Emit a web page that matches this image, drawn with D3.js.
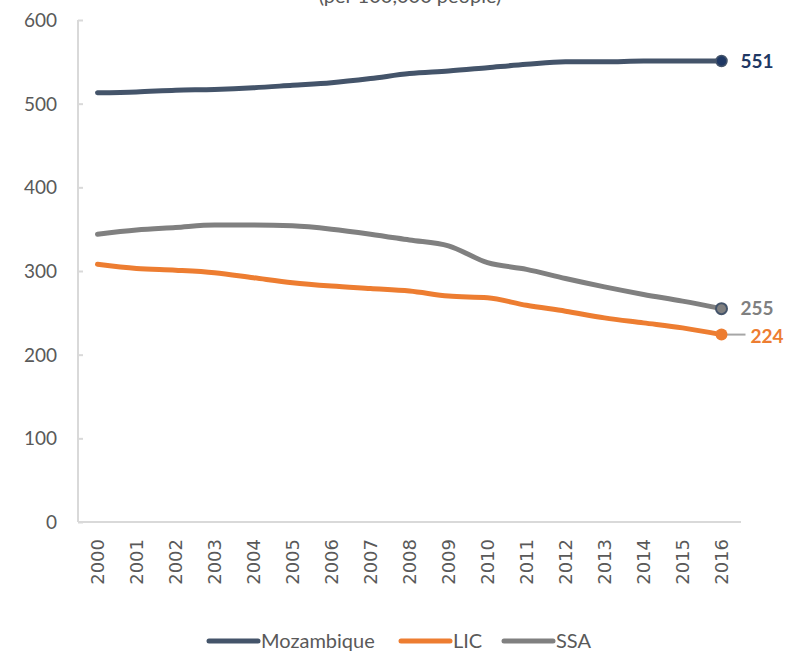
<!DOCTYPE html>
<html><head><meta charset="utf-8">
<script src="https://cdn.jsdelivr.net/npm/d3@7"></script>
<style>body{margin:0;background:#fff}svg{display:block}</style>
</head><body>
<svg id="c" width="796" height="654"></svg>
<script>
const years = ["2000","2001","2002","2003","2004","2005","2006","2007","2008","2009","2010","2011","2012","2013","2014","2015","2016"];
const mozambique = [513,514,516,517,519,522,525,530,536,539,543,547,550,550,551,551,551];
const lic = [308,303,301,298,292,286,282,279,276,270,268,259,252,244,238,232,224];
const ssa = [344,349,352,355,355,354,350,344,337,330,310,302,291,281,272,264,255];
const yTicks = [0,100,200,300,400,500,600];
const seriesNames = ["Mozambique","LIC","SSA"];
const colors = ["#44546A","#ED7D31","#808080"];
const title = "(per 100,000 people)";

const svg = d3.select("#c");
const L = 78, R = 741, T = 20, B = 522;
const x = d3.scalePoint().domain(years).range([L, R]).padding(0.5);
const y = d3.scaleLinear().domain([0,600]).range([B, T]);
const font = "Lato, 'Open Sans', sans-serif";

svg.append("text").attr("x", 410).attr("y", 3).attr("text-anchor","middle")
  .attr("font-family", font).attr("font-size", 20).attr("fill","#595959").text(title);

// axes
const ya = svg.append("g").attr("transform",`translate(${L},0)`)
  .call(d3.axisLeft(y).tickValues(yTicks).tickSize(-5).tickPadding(21));
ya.select(".domain").attr("stroke","#D9D9D9").attr("stroke-width",2).attr("d",`M0,${T}V${B}`);
ya.selectAll(".tick line").attr("stroke","#D9D9D9").attr("stroke-width",2);
ya.selectAll(".tick text").attr("font-family",font).attr("font-size",19).attr("fill","#595959").attr("dy","0.35em");

const xa = svg.append("g").attr("transform",`translate(0,${B})`)
  .call(d3.axisBottom(x).tickSize(0).tickPadding(0));
xa.select(".domain").attr("stroke","#D9D9D9").attr("stroke-width",2).attr("d",`M${L},0H${R}`);
xa.selectAll(".tick text").attr("font-family","'DejaVu Sans', sans-serif").attr("font-size",18).attr("fill","#595959")
  .attr("transform","rotate(-90)").attr("text-anchor","end").attr("x",-17).attr("y",0).attr("dy","0.35em");

const data = [mozambique, lic, ssa];
const line = d3.line().x((d,i)=>x(years[i])).y(d=>y(d)).curve(d3.curveMonotoneX);
data.forEach((s,k)=>{
  svg.append("path").attr("d", line(s)).attr("fill","none").attr("stroke",colors[k])
    .attr("stroke-width",5).attr("stroke-linecap","round").attr("stroke-linejoin","round");
});

const last = years[years.length-1];
// leader line for LIC
svg.append("line").attr("x1", x(last)).attr("x2", x(last)+24).attr("y1", y(lic[16])).attr("y2", y(lic[16]))
  .attr("stroke","#A6A6A6").attr("stroke-width",2);
// markers
svg.append("circle").attr("cx",x(last)).attr("cy",y(mozambique[16])).attr("r",5.5).attr("fill","#1F3864").attr("stroke","#44546A").attr("stroke-width",1.5);
svg.append("circle").attr("cx",x(last)).attr("cy",y(ssa[16])).attr("r",5.5).attr("fill","#808080").attr("stroke","#44546A").attr("stroke-width",2);
svg.append("circle").attr("cx",x(last)).attr("cy",y(lic[16])).attr("r",6).attr("fill","#ED7D31");

const lab = [[mozambique[16],"#1F3864",19,0],[ssa[16],"#808080",19,0],[lic[16],"#ED7D31",29,2]];
lab.forEach(([v,c,dx,dy])=>{
  svg.append("text").attr("x", x(last)+dx).attr("y", y(v)+dy).attr("dy","0.35em")
    .attr("font-family",font).attr("font-weight","bold").attr("font-size",19).attr("fill",c).text(v);
});

// legend
const lg = svg.append("g").attr("transform","translate(0,641)");
const lx = [209, 401, 504];
seriesNames.forEach((n,k)=>{
  lg.append("line").attr("x1",lx[k]).attr("x2",lx[k]+49).attr("y1",0).attr("y2",0)
    .attr("stroke",colors[k]).attr("stroke-width",5).attr("stroke-linecap","round");
  lg.append("text").attr("x",lx[k]+52).attr("y",0).attr("dy","0.35em").attr("font-family",font)
    .attr("font-size",20).attr("fill","#595959").text(n);
});
</script>
</body></html>
